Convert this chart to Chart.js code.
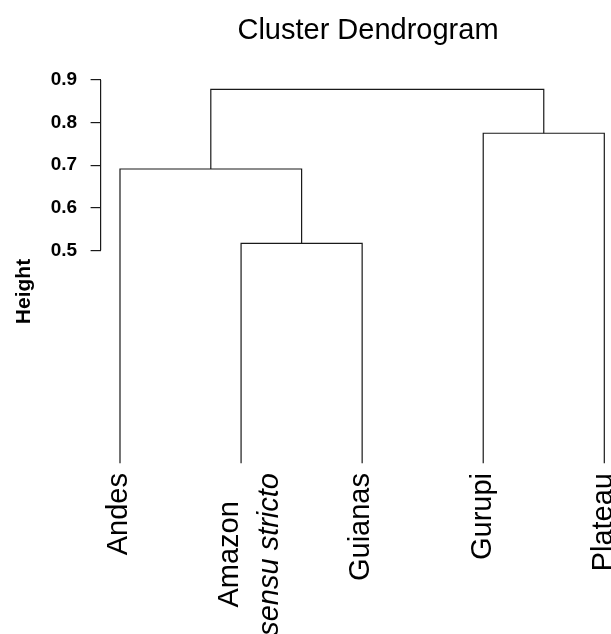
<!DOCTYPE html>
<html>
<head>
<meta charset="utf-8">
<script src="https://cdn.jsdelivr.net/npm/chart.js@4"></script>
<style>
  html, body { margin: 0; padding: 0; background: #fff; }
  #wrap { width: 611px; height: 634px; }
</style>
</head>
<body>
<div id="wrap"><canvas id="dendro"></canvas></div>
<script>
// leaves in plotting order, each label may span several lines
const leafLabels = [["Andes"], ["Amazon", "sensu stricto"], ["Guianas"], ["Gurupi"], ["Plateau"]];
// hclust-style merges: negative = leaf number, positive = earlier merge step
const mergeLeft = [-2, -1, -4, 2];
const mergeRight = [-3, 1, -5, 3];
const mergeHeight = [0.5165, 0.691, 0.775, 0.878];
const yTicks = [0.5, 0.6, 0.7, 0.8, 0.9];

const LINE = "#1a1a1a";
const FONT = "'Liberation Sans', Arial, Helvetica, sans-serif";

// position of every node (leaves sit at 1..n, height 0)
const nodeX = [];
const segments = [];
function childPos(ref) {
  if (ref < 0) return { x: -ref, y: 0 };
  return { x: nodeX[ref - 1], y: mergeHeight[ref - 1] };
}
mergeHeight.forEach((h, i) => {
  const a = childPos(mergeLeft[i]);
  const b = childPos(mergeRight[i]);
  nodeX.push((a.x + b.x) / 2);
  segments.push([
    { x: a.x, y: a.y },
    { x: a.x, y: h },
    { x: b.x, y: h },
    { x: b.x, y: b.y }
  ]);
});

const extras = {
  id: "extras",
  afterDraw(chart) {
    const { ctx, chartArea, scales } = chart;
    const xs = scales.x, ys = scales.y;
    ctx.save();

    // axis line only over the tick range
    ctx.strokeStyle = LINE;
    ctx.lineWidth = 1.2;
    ctx.beginPath();
    ctx.moveTo(chartArea.left, ys.getPixelForValue(yTicks[0]));
    ctx.lineTo(chartArea.left, ys.getPixelForValue(yTicks[yTicks.length - 1]));
    ctx.stroke();

    // main title
    ctx.fillStyle = "#000";
    ctx.font = "29px " + FONT;
    ctx.textAlign = "center";
    ctx.textBaseline = "alphabetic";
    ctx.fillText("Cluster Dendrogram", 368, 39);

    // leaf labels, rotated, ending just under the leaves
    const topEnd = ys.getPixelForValue(0) + 9.7;
    leafLabels.forEach((lines, i) => {
      const lx = xs.getPixelForValue(i + 1);
      const fonts = lines.map((_, j) => (j > 0 ? "italic " : "") + "29px " + FONT);
      let maxW = 0;
      lines.forEach((t, j) => {
        ctx.font = fonts[j];
        maxW = Math.max(maxW, ctx.measureText(t).width);
      });
      const first = 7.3 - (lines.length - 1) * 10.7;
      lines.forEach((t, j) => {
        ctx.save();
        ctx.translate(lx + first + j * 40, topEnd + maxW / 2);
        ctx.rotate(-Math.PI / 2);
        ctx.font = fonts[j];
        ctx.textAlign = "center";
        ctx.fillText(t, 0, 0);
        ctx.restore();
      });
    });
    ctx.restore();
  }
};

new Chart(document.getElementById("dendro"), {
  type: "scatter",
  data: {
    datasets: segments.map(s => ({
      data: s,
      showLine: true,
      borderColor: LINE,
      borderWidth: 1.2,
      pointRadius: 0,
      tension: 0,
      clip: false
    }))
  },
  options: {
    responsive: true,
    maintainAspectRatio: false,
    animation: false,
    layout: { padding: { top: 74.5, bottom: 125.5, left: 0, right: 0 } },
    plugins: { legend: { display: false }, tooltip: { enabled: false } },
    scales: {
      x: { type: "linear", min: 0.8398, max: 5.0553, display: false },
      y: {
        type: "linear",
        min: -0.1061,
        max: 0.9129,
        afterFit(scale) { scale.width = 100.6; },
        afterBuildTicks(scale) { scale.ticks = yTicks.map(v => ({ value: v })); },
        border: { display: false },
        grid: { drawOnChartArea: false, tickLength: 10, color: LINE, lineWidth: 1.2 },
        ticks: {
          padding: 13.5,
          color: "#000",
          font: { family: FONT, size: 19, weight: "bold" },
          callback: v => v.toFixed(1)
        },
        title: {
          display: true,
          text: "Height",
          color: "#000",
          font: { family: FONT, size: 21, weight: "bold" },
          padding: { top: 11.6, bottom: 0 }
        }
      }
    }
  },
  plugins: [extras]
});
</script>
</body>
</html>
